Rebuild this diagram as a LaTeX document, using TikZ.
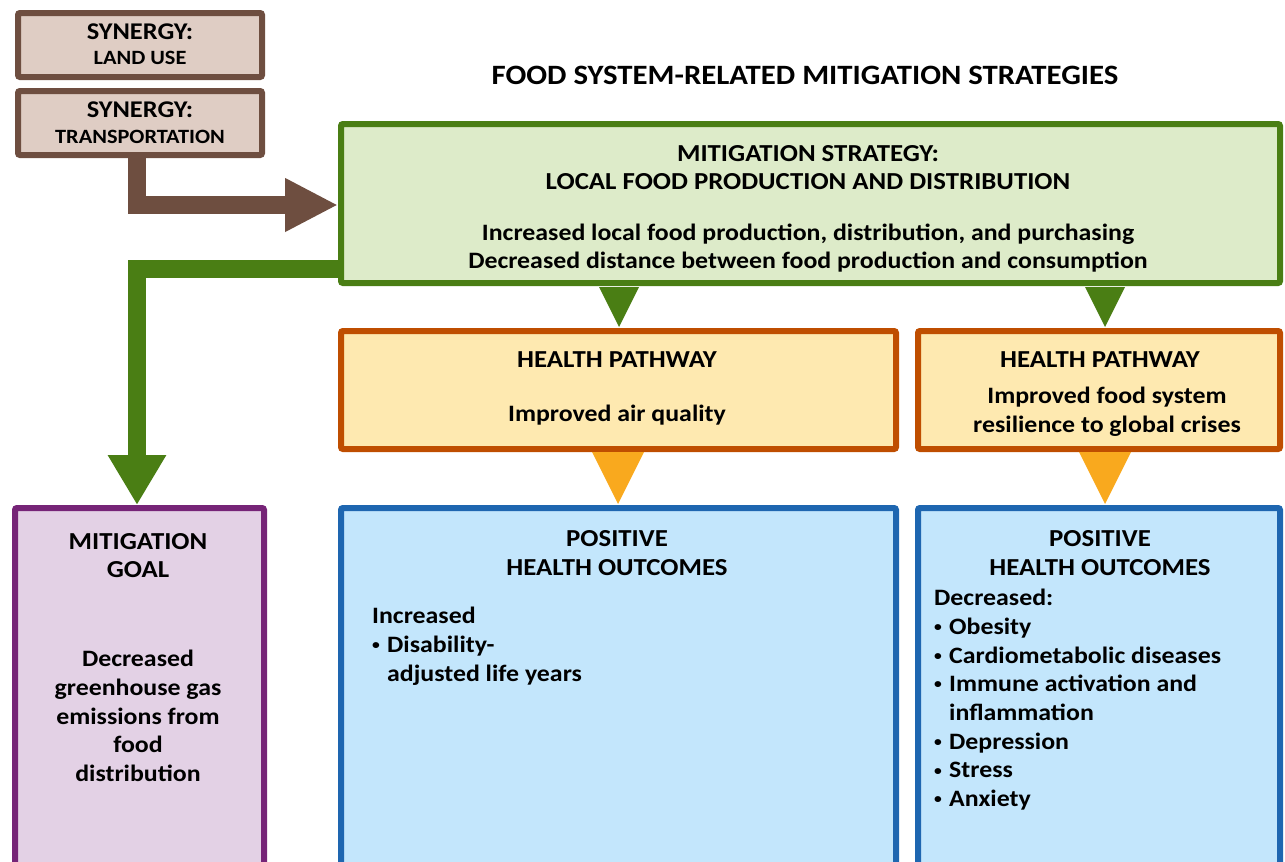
\documentclass[tikz,border=0pt]{standalone}
\usepackage{fontspec}
\setmainfont{Carlito}[FakeStretch=1.1]
\usetikzlibrary{arrows.meta}
\definecolor{brownB}{HTML}{6E4E40}
\definecolor{brownF}{HTML}{DFCDC4}
\definecolor{greenB}{HTML}{4A7E14}
\definecolor{greenF}{HTML}{DDEBC9}
\definecolor{orangeB}{HTML}{BF4E00}
\definecolor{orangeF}{HTML}{FEE9B0}
\definecolor{yellowT}{HTML}{F9A91E}
\definecolor{blueB}{HTML}{1E66B0}
\definecolor{blueF}{HTML}{C3E6FC}
\definecolor{purpleB}{HTML}{762477}
\definecolor{purpleF}{HTML}{E3D1E5}
\newcommand{\mybul}{\makebox[15pt][l]{\raisebox{0.12em}{\scalebox{0.6}{\textbullet}}}}
\newcommand{\mybulsp}{\hspace*{15pt}}
\tikzset{
  x=1pt,y=-1pt,
  boxstyle/.style 2 args={draw=#1,fill=#2,line width=6pt,rounded corners=2pt,inner sep=0pt,rectangle},
  txt/.style={font=\fontsize{23.5}{28.7}\selectfont\bfseries,align=center,inner sep=0pt},
  caps/.style={font=\fontsize{24.4}{28.7}\selectfont\bfseries,align=center,inner sep=0pt},
  txtl/.style={font=\fontsize{23.5}{28.7}\selectfont\bfseries,align=left,inner sep=0pt,anchor=north west},
  synbig/.style={font=\fontsize{24}{26}\selectfont\bfseries,inner sep=0pt},
  synsmall/.style={font=\fontsize{20.3}{22}\selectfont\bfseries,inner sep=0pt},
}
\begin{document}
\begin{tikzpicture}
\useasboundingbox (0,0) rectangle (1285,862);
\clip (0,0) rectangle (1285,862);
% boxes
\node[boxstyle={brownB}{brownF},minimum width=244pt,minimum height=64pt] (syn1) at (140,45) {};
\node[boxstyle={brownB}{brownF},minimum width=244pt,minimum height=64pt] (syn2) at (140,123) {};
\node[boxstyle={greenB}{greenF},minimum width=939pt,minimum height=159pt] (main) at (810.5,203.5) {};
\node[boxstyle={orangeB}{orangeF},minimum width=555pt,minimum height=118pt] (hp1) at (618.5,390) {};
\node[boxstyle={orangeB}{orangeF},minimum width=362pt,minimum height=118pt] (hp2) at (1099,390) {};
\node[boxstyle={blueB}{blueF},minimum width=555pt,minimum height=400pt] (po1) at (618.5,708) {};
\node[boxstyle={blueB}{blueF},minimum width=362pt,minimum height=400pt] (po2) at (1099,708) {};
\node[boxstyle={purpleB}{purpleF},minimum width=249pt,minimum height=400pt] (goal) at (139.5,708) {};
% connectors
\coordinate (bstart) at (137,158);
\draw[brownB,line width=18pt,-{Triangle[width=50pt,length=53pt]}] (bstart) |- (main.west |- 0,205);
\draw[greenB,line width=18pt,-{Triangle[width=55pt,length=50pt]}] (main.west |- 0,269) -| (goal.north -| 137,0);
% small triangles
\fill[greenB] (599,287) -- (639,287) -- (619,327) -- cycle;
\fill[greenB] (1085,287) -- (1125,287) -- (1105,327) -- cycle;
\fill[yellowT] (592,452) -- (644,452) -- (618,504) -- cycle;
\fill[yellowT] (1079,452) -- (1131,452) -- (1105,504) -- cycle;
% texts
\node[synbig] (t1) at (140,32) {SYNERGY:};
\node[synsmall] (t2) at (140,58) {LAND USE};
\node[synbig] (t3) at (140,110) {SYNERGY:};
\node[synsmall] (t4) at (140,137) {TRANSPORTATION};
\node[txt,font=\fontsize{28}{30}\selectfont\bfseries] (title) at (805,75) {FOOD SYSTEM-RELATED MITIGATION STRATEGIES};
\node[caps] (mt) at (808,167.5) {MITIGATION STRATEGY:\\LOCAL FOOD PRODUCTION AND DISTRIBUTION};
\node[txt] (mb) at (808,248) {Increased local food production, distribution, and purchasing\\Decreased distance between food production and consumption};
\node[caps] (h1a) at (617,360) {HEALTH PATHWAY};
\node[txt] (h1b) at (617,415) {Improved air quality};
\node[caps] (h2a) at (1100,360) {HEALTH PATHWAY};
\node[txt] (h2b) at (1107,412) {Improved food system\\resilience to global crises};
\node[caps] (p1) at (617,553) {POSITIVE\\HEALTH OUTCOMES};
\node[caps] (p2) at (1100,553) {POSITIVE\\HEALTH OUTCOMES};
\node[caps] (g1) at (138,555.5) {MITIGATION\\GOAL};
\node[txt] (g2) at (138,716) {Decreased\\greenhouse gas\\emissions from\\food\\distribution};
\node[txtl] (l1) at (372,607) {Increased\\\mybul Disability-\\\mybulsp adjusted life years};
\node[txtl] (r1) at (934,589) {Decreased:\\\mybul Obesity\\\mybul Cardiometabolic diseases\\\mybul Immune activation and\\\mybulsp inflammation\\\mybul Depression\\\mybul Stress\\\mybul Anxiety};
\end{tikzpicture}
\end{document}
